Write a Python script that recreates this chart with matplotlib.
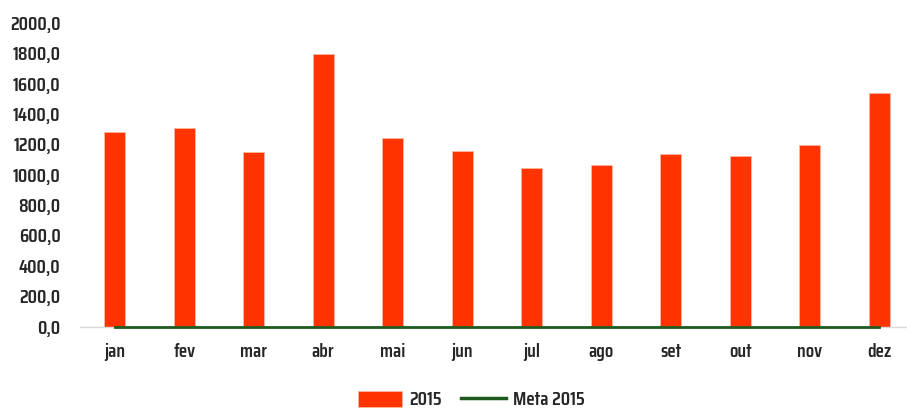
import matplotlib
matplotlib.use("Agg")
import matplotlib.pyplot as plt
from matplotlib.patches import Patch
from matplotlib.lines import Line2D

months = ["jan", "fev", "mar", "abr", "mai", "jun", "jul", "ago", "set", "out", "nov", "dez"]
values_2015 = [1283, 1307, 1147, 1794, 1239, 1158, 1042, 1066, 1134, 1123, 1193, 1537]
meta_2015 = [0, 0, 0, 0, 0, 0, 0, 0, 0, 0, 0, 0]
yticks = [0, 200, 400, 600, 800, 1000, 1200, 1400, 1600, 1800, 2000]

plt.rcParams['font.family'] = ['Saira Condensed', 'DejaVu Sans']
plt.rcParams['font.weight'] = 'semibold'

W, H = 907, 408
fig = plt.figure(figsize=(W / 100, H / 100), dpi=100)
ax = fig.add_axes([80 / W, 1 - 326.7 / H, (914 - 80) / W, (326.7 - 22.7) / H])

x = list(range(len(months)))
bar_color = "#FF3300"
ax.bar(x, values_2015, width=0.30, color=bar_color, edgecolor="#FFB8A0", linewidth=0.6, zorder=2)
ax.plot(x, meta_2015, color="#1E5A1E", linewidth=2, zorder=3, clip_on=False)

ax.set_xlim(-0.5, len(months) - 0.5)
ax.set_ylim(0, 2000)
ax.set_yticks(yticks)
ax.set_yticklabels([f"{v:.1f}".replace(".", ",") for v in yticks], fontsize=14, color="#262626")
ax.set_xticks(x)
ax.set_xticklabels(months, fontsize=14, color="#262626")
ax.tick_params(axis="both", length=0)
ax.tick_params(axis="y", pad=14)
ax.tick_params(axis="x", pad=12)

for s in ["top", "right", "left"]:
    ax.spines[s].set_visible(False)
ax.spines["bottom"].set_color("#D9D9D9")
ax.spines["bottom"].set_linewidth(1)

handles = [Patch(facecolor=bar_color, edgecolor="#FFB8A0", linewidth=0.6),
           Line2D([0], [0], color="#1E5A1E", linewidth=2.5)]
leg = fig.legend(handles, ["2015", "Meta 2015"], loc="center", bbox_to_anchor=(471 / W, 1 - 400 / H),
                 ncol=2, frameon=False, fontsize=14, handlelength=2.3, handleheight=0.9,
                 columnspacing=1.0, handletextpad=0.35)
for t in leg.get_texts():
    t.set_color("#262626")

fig.savefig("out.png", dpi=100)
